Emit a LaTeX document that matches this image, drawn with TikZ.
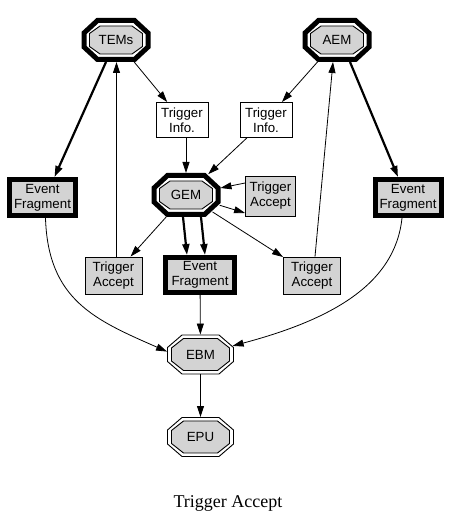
\documentclass[tikz,border=0pt]{standalone}
\usepackage{fontspec}
\setmainfont{Liberation Serif}
\newfontfamily\lsans{Liberation Sans}
\usetikzlibrary{arrows.meta}
\definecolor{fillgray}{RGB}{211,211,211}
\makeatletter
\pgfkeys{/pgf/octo hw/.initial=30pt,/pgf/octo hh/.initial=20pt,
         /pgf/octo cx/.initial=10pt,/pgf/octo cy/.initial=10pt}
\pgfdeclareshape{octo}{%
  \savedanchor\northeast{%
    \pgfmathsetlength\pgf@xa{\pgfkeysvalueof{/pgf/outer xsep}}%
    \pgfmathsetlength\pgf@ya{\pgfkeysvalueof{/pgf/outer ysep}}%
    \pgf@x=\pgfkeysvalueof{/pgf/octo hw}\relax
    \pgf@y=\pgfkeysvalueof{/pgf/octo hh}\relax
    \advance\pgf@x by\pgf@xa
    \advance\pgf@y by\pgf@ya
  }%
  \savedanchor\halfsize{%
    \pgf@x=\pgfkeysvalueof{/pgf/octo hw}\relax
    \pgf@y=\pgfkeysvalueof{/pgf/octo hh}\relax
  }%
  \savedanchor\chamf{%
    \pgf@x=\pgfkeysvalueof{/pgf/octo cx}\relax
    \pgf@y=\pgfkeysvalueof{/pgf/octo cy}\relax
  }%
  \anchor{center}{\pgfpointorigin}%
  \anchor{north}{\northeast\pgf@x=0pt}%
  \anchor{south}{\northeast\pgf@x=0pt\pgf@y=-\pgf@y}%
  \anchor{east}{\northeast\pgf@y=0pt}%
  \anchor{west}{\northeast\pgf@x=-\pgf@x\pgf@y=0pt}%
  \anchorborder{%
    \edef\oct@dx{\pgf@sys@tonumber\pgf@x}%
    \edef\oct@dy{\pgf@sys@tonumber\pgf@y}%
    \northeast
    \edef\oct@a{\pgf@sys@tonumber\pgf@x}%
    \edef\oct@b{\pgf@sys@tonumber\pgf@y}%
    \chamf
    \edef\oct@cx{\pgf@sys@tonumber\pgf@x}%
    \edef\oct@cy{\pgf@sys@tonumber\pgf@y}%
    \pgfmathsetmacro\oct@len{veclen(\oct@dx,\oct@dy)+0.00001}%
    \pgfmathsetmacro\oct@ux{\oct@dx/\oct@len}%
    \pgfmathsetmacro\oct@uy{\oct@dy/\oct@len}%
    \pgfmathsetmacro\oct@ax{abs(\oct@ux)}%
    \pgfmathsetmacro\oct@ay{abs(\oct@uy)}%
    \pgfmathsetmacro\oct@K{\oct@a*\oct@cy+\oct@b*\oct@cx-\oct@cx*\oct@cy}%
    \pgfmathsetmacro\oct@m{max(\oct@ax/\oct@a,\oct@ay/\oct@b,(\oct@ax*\oct@cy+\oct@ay*\oct@cx)/\oct@K)}%
    \pgfmathsetmacro\oct@rx{\oct@ux/\oct@m}%
    \pgfmathsetmacro\oct@ry{\oct@uy/\oct@m}%
    \pgf@x=\oct@rx pt\relax
    \pgf@y=\oct@ry pt\relax
  }%
  \backgroundpath{%
    \halfsize
    \edef\oct@A{\the\pgf@x}\edef\oct@B{\the\pgf@y}%
    \chamf
    \edef\oct@C{\the\pgf@x}\edef\oct@D{\the\pgf@y}%
    \pgfpathmoveto{\pgfpoint{-\oct@A+\oct@C}{\oct@B}}%
    \pgfpathlineto{\pgfpoint{\oct@A-\oct@C}{\oct@B}}%
    \pgfpathlineto{\pgfpoint{\oct@A}{\oct@B-\oct@D}}%
    \pgfpathlineto{\pgfpoint{\oct@A}{-\oct@B+\oct@D}}%
    \pgfpathlineto{\pgfpoint{\oct@A-\oct@C}{-\oct@B}}%
    \pgfpathlineto{\pgfpoint{-\oct@A+\oct@C}{-\oct@B}}%
    \pgfpathlineto{\pgfpoint{-\oct@A}{-\oct@B+\oct@D}}%
    \pgfpathlineto{\pgfpoint{-\oct@A}{\oct@B-\oct@D}}%
    \pgfpathclose
  }%
}
\makeatother
\tikzset{
  lbl/.style={font=\lsans\fontsize{13.3}{15}\selectfont, align=center, inner sep=0pt},
  octout/.style={shape=octo, octo hw=32pt, octo hh=19.5pt, octo cx=13.5pt, octo cy=12.5pt,
    draw, line width=5pt, fill=white},
  octin/.style={shape=octo, octo hw=26.5pt, octo hh=14pt, octo cx=10.5pt, octo cy=7.5pt,
    draw, line width=0.9pt, fill=fillgray},
  octthin/.style={shape=octo, octo hw=33pt, octo hh=19.5pt, octo cx=14.5pt, octo cy=12.5pt,
    draw, line width=0.9pt, fill=white},
  octthinin/.style={shape=octo, octo hw=29pt, octo hh=16pt, octo cx=12pt, octo cy=9.5pt,
    draw, line width=0.9pt, fill=fillgray},
  efbox/.style={rectangle, draw, line width=5pt, fill=fillgray, minimum width=66pt, minimum height=36pt, lbl},
  tabox/.style={rectangle, draw, line width=0.9pt, fill=fillgray, minimum width=57pt, minimum height=37pt, lbl},
  tibox/.style={rectangle, draw, line width=0.9pt, fill=white, minimum width=52pt, minimum height=35pt, lbl},
  arr/.style={draw, line width=0.8pt, -{Triangle[length=11pt,width=7pt]}},
  tarr/.style={arr, line width=2.2pt},
}
\begin{document}
\begin{tikzpicture}[x=1pt,y=1pt]
\useasboundingbox[fill=white] (0,0) rectangle (452,525);
% octagon nodes
\node[octout] (tems) at (116,485) {};
\node[octin] (temsin) at (tems) {};
\node[lbl] (temsl) at (tems) {TEMs};
\node[octout] (aem) at (337,485) {};
\node[octin] (aemin) at (aem) {};
\node[lbl] (aeml) at (aem) {AEM};
\node[octout] (gem) at (186,330) {};
\node[octin] (gemin) at (gem) {};
\node[lbl] (geml) at (gem) {GEM};
\node[octthin] (ebm) at (200.5,170.5) {};
\node[octthinin] (ebmin) at (ebm) {};
\node[lbl] (ebml) at (ebm) {EBM};
\node[octthin] (epu) at (200.5,88) {};
\node[octthinin] (epuin) at (epu) {};
\node[lbl] (epul) at (epu) {EPU};
% boxes
\node[tibox] (til) at (182,405) {Trigger\\Info.};
\node[tibox] (tir) at (266,405) {Trigger\\Info.};
\node[efbox] (efl) at (42.5,327.5) {Event\\Fragment};
\node[efbox] (efr) at (408,327.5) {Event\\Fragment};
\node[efbox, minimum width=69pt, minimum height=35pt] (efm) at (200,250) {Event\\Fragment};
\node[tabox, minimum width=50pt, minimum height=40pt] (ta0) at (270.5,329) {Trigger\\Accept};
\node[tabox] (tal) at (113.5,249.5) {Trigger\\Accept};
\node[tabox] (tar) at (312,249.5) {Trigger\\Accept};
% caption
\node[anchor=base, font=\fontsize{18}{20}\selectfont, inner sep=0pt] (cap) at (228,17) {Trigger Accept};
% connectors
\draw[tarr] ([xshift=-10pt]tems.south) -- ([xshift=12pt]efl.north);
\draw[arr] ([xshift=3pt]tal.north) -- ([xshift=3pt]tal.north |- tems.south);
\draw[arr] (tems) -- (til);
\draw[arr] (aem) -- (tir);
\draw[arr] ([xshift=3pt]tar.north) -- ([xshift=-4pt]aem.south);
\draw[tarr] ([xshift=13pt]aem.south) -- ([xshift=-10pt]efr.north);
\draw[arr] (til.south -| gem.north) -- (gem.north);
\draw[arr] (tir) -- (gem);
\draw[arr] ([yshift=13pt]ta0.west) -- (gem);
\draw[arr] (gem) -- ([yshift=-17pt]ta0.west);
\draw[arr] (gem) -- (tal);
\draw[arr] (gem) -- (tar);
\draw[tarr] ([xshift=-3pt]gem.south) -- ([xshift=-13pt]efm.north);
\draw[tarr] ([xshift=15pt]gem.south) -- ([xshift=5pt]efm.north);
\draw[arr] (efm) -- (ebm);
\draw[arr] (ebm) -- (epu);
\draw[arr] ([xshift=3pt]efl.south) .. controls (48,225) and (95,205) .. (ebm.175);
\draw[arr] ([xshift=-6pt]efr.south) .. controls (395,240) and (330,205) .. (ebm.15);
\end{tikzpicture}
\end{document}
